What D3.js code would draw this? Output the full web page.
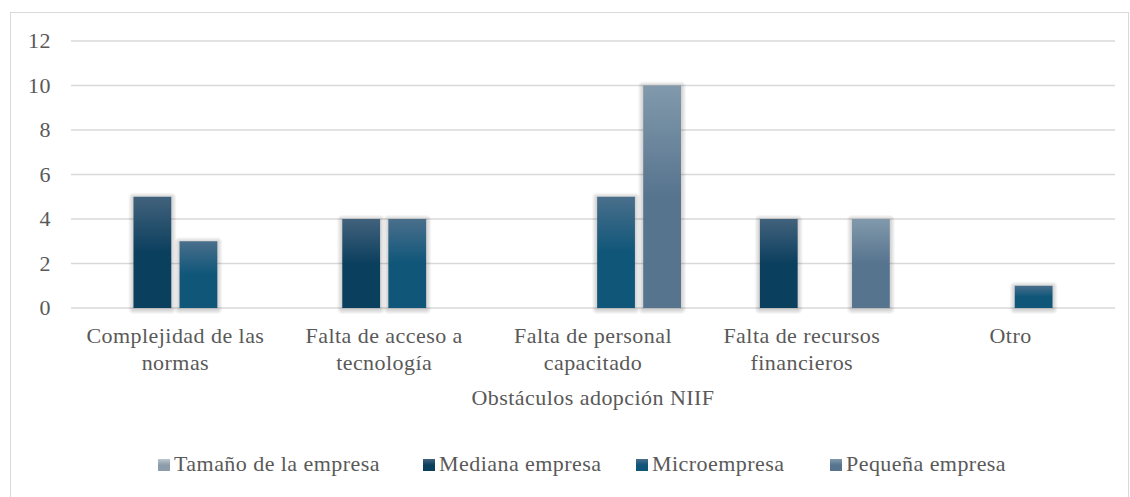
<!DOCTYPE html>
<html>
<head>
<meta charset="utf-8">
<script src="https://cdnjs.cloudflare.com/ajax/libs/d3/7.8.5/d3.min.js"></script>
</head>
<body style="margin:0;background:#fff">
<script>
var categories = ["Complejidad de las normas", "Falta de acceso a tecnología", "Falta de personal capacitado", "Falta de recursos financieros", "Otro"]
var catLines = [["Complejidad de las", "normas"], ["Falta de acceso a", "tecnología"], ["Falta de personal", "capacitado"], ["Falta de recursos", "financieros"], ["Otro"]]
var seriesNames = ["Tamaño de la empresa", "Mediana empresa", "Microempresa", "Pequeña empresa"]
var tamano = [0, 0, 0, 0, 0]
var mediana = [5, 4, 0, 4, 0]
var micro = [3, 4, 5, 0, 1]
var pequena = [0, 0, 10, 4, 0]
var yTicks = [0, 2, 4, 6, 8, 10, 12]
var grads = [["#bcc6cf", "#8d9cab"], ["#42627c", "#0b3f5e"], ["#4a6f8b", "#0f5679"], ["#8199ab", "#57748f"]]

var W = 1130, H = 497
var svg = d3.select("body").append("svg").attr("width", W).attr("height", H)

svg.append("rect").attr("x", 10.5).attr("y", 12.5).attr("width", W - 12).attr("height", H - 10)
  .attr("fill", "#fff").attr("stroke", "#d9d9d9")

var defs = svg.append("defs")
grads.forEach(function(g, i) {
  var lg = defs.append("linearGradient").attr("id", "g" + i).attr("x1", 0).attr("y1", 0).attr("x2", 0).attr("y2", 1)
  lg.append("stop").attr("offset", "0%").attr("stop-color", g[0])
  lg.append("stop").attr("offset", "50%").attr("stop-color", g[1])
  lg.append("stop").attr("offset", "100%").attr("stop-color", g[1])
})

var x0 = d3.scaleBand().domain(categories).range([71, 1115])
var x1 = d3.scaleBand().domain(seriesNames).range([x0.bandwidth() / 2 - 88, x0.bandwidth() / 2 + 88]).paddingInner(0.18)
var y = d3.scaleLinear().domain([0, 12]).range([308, 41])

function txt(sel, size) {
  return sel.attr("font-family", "Liberation Serif")
    .style("font-family", function() { return "'Liberation Serif'" })
    .attr("fill", "#595959").attr("font-size", size).attr("letter-spacing", 0.45)
}

// gridlines
svg.append("g").selectAll("line").data(yTicks).enter().append("line")
  .attr("x1", 71).attr("x2", 1115)
  .attr("y1", function(d) { return y(d) }).attr("y2", function(d) { return y(d) })
  .attr("stroke", "#d9d9d9").attr("stroke-width", 1.3)

txt(svg.append("g").selectAll("text").data(yTicks).enter().append("text"), 22)
  .attr("x", 51).attr("y", function(d) { return y(d) + 7 })
  .attr("text-anchor", "end").text(function(d) { return d })

// bars, with a soft halo made of stacked translucent rects
var allSeries = [tamano, mediana, micro, pequena]
var groups = svg.append("g").selectAll("g").data(categories).enter().append("g")
  .attr("transform", function(d) { return "translate(" + x0(d) + ",0)" })
var bars = groups.selectAll("g").data(function(d, i) {
  return seriesNames.map(function(s, j) { return { s: s, j: j, v: allSeries[j][i] } }).filter(function(e) { return e.v > 0 })
}).enter().append("g")
;[5, 4, 3, 2, 1].forEach(function(k) {
  bars.append("rect")
    .attr("x", function(d) { return x1(d.s) - k })
    .attr("width", x1.bandwidth() + 2 * k)
    .attr("y", function(d) { return y(d.v) - k + 1 })
    .attr("height", function(d) { return y(0) - y(d.v) + 2 * k })
    .attr("rx", k).attr("fill", "#000").attr("fill-opacity", 0.035)
})
bars.append("rect")
  .attr("x", function(d) { return x1(d.s) })
  .attr("width", x1.bandwidth())
  .attr("y", function(d) { return y(d.v) })
  .attr("height", function(d) { return y(0) - y(d.v) })
  .attr("fill", function(d) { return "url(#g" + d.j + ")" })

// category labels
var cl = txt(svg.append("g").selectAll("text").data(categories).enter().append("text"), 22)
  .attr("x", function(d) { return x0(d) + x0.bandwidth() / 2 })
  .attr("y", 343).attr("text-anchor", "middle")
cl.each(function(d, i) {
  var t = d3.select(this)
  catLines[i].forEach(function(l, k) {
    t.append("tspan").attr("x", x0(d) + x0.bandwidth() / 2).attr("dy", k === 0 ? 0 : 27).text(l)
  })
})

txt(svg.append("text"), 22).attr("x", 593).attr("y", 405).attr("text-anchor", "middle")
  .text("Obstáculos adopción NIIF")

// legend
var legX = [158, 423, 636, 830]
var leg = svg.append("g").selectAll("g").data(seriesNames).enter().append("g")
  .attr("transform", function(d, i) { return "translate(" + legX[i] + ",459)" })
leg.append("rect").attr("width", 12).attr("height", 12).attr("fill", function(d, i) { return "url(#g" + i + ")" })
txt(leg.append("text"), 22).attr("x", 16).attr("y", 12).text(function(d) { return d })
</script>
</body>
</html>
